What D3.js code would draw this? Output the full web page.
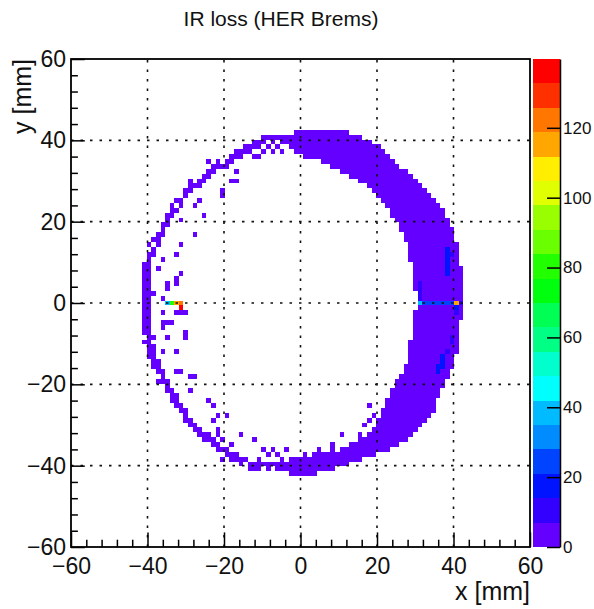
<!DOCTYPE html>
<html>
<head>
<meta charset="utf-8">
<script src="https://cdn.jsdelivr.net/npm/d3@7"></script>
<style>
  body { margin: 0; background: #fff; }
  svg { display: block; }
  text { font-family: "Liberation Sans", Arial, Helvetica, sans-serif; fill: #111; }
</style>
</head>
<body>
<svg id="chart" width="594" height="609"></svg>
<script>
// ---- histogram definition ----
const xRange = [-60, 60];          // mm
const yRange = [-60, 60];          // mm
const binWidth = 1.2;              // mm, bins centred on multiples of binWidth
const zAxisMax = 139.7;            // top of the colour scale (entries)
const nContours = 20;

const xTicks = [-60, -40, -20, 0, 20, 40, 60];
const yTicks = [-60, -40, -20, 0, 20, 40, 60];
const zTicks = [0, 20, 40, 60, 80, 100, 120];
const gridValues = [-40, -20, 0, 20, 40];

// rainbow palette, one colour per contour level (violet -> red)
const paletteColors = [
  "#6300ff", "#3300ff", "#0014ff", "#0044ff", "#008bff",
  "#00bbff", "#00fffc", "#00ffcc", "#00ff85", "#00ff55",
  "#00ff0e", "#22ff00", "#69ff00", "#99ff00", "#e0ff00",
  "#ffee00", "#ffa700", "#ff7700", "#ff3000", "#ff0000"
];

// filled runs of the dense crescent: [y centre, x first bin, x last bin, entries]
const bandRows = [
  [42.0, -1.2, 12.0, 3], [40.8, -4.8, 15.6, 3], [39.6, -3.6, 18.0, 3], [38.4, -2.4, 20.4, 3],
  [37.2, -1.2, 21.6, 3], [36.0, 1.2, 22.8, 3], [34.8, 6.0, 24.0, 3], [33.6, 8.4, 25.2, 3],
  [32.4, 10.8, 27.6, 3], [31.2, 13.2, 28.8, 3], [30.0, 15.6, 30.0, 3], [28.8, 18.0, 31.2, 3],
  [27.6, 19.2, 32.4, 3], [26.4, 20.4, 33.6, 3], [25.2, 21.6, 34.8, 3], [24.0, 22.8, 36.0, 3],
  [22.8, 24.0, 37.2, 3], [21.6, 24.0, 37.2, 3], [20.4, 25.2, 38.4, 3], [19.2, 26.4, 38.4, 3],
  [18.0, 26.4, 39.6, 3], [16.8, 27.6, 39.6, 3], [15.6, 27.6, 39.6, 3], [14.4, 28.8, 40.8, 3],
  [13.2, 28.8, 40.8, 3], [12.0, 28.8, 40.8, 3], [10.8, 28.8, 40.8, 3], [9.6, 30.0, 40.8, 3],
  [8.4, 30.0, 42.0, 3], [7.2, 30.0, 42.0, 3], [6.0, 30.0, 42.0, 3], [4.8, 30.0, 42.0, 3],
  [3.6, 30.0, 42.0, 3], [2.4, 31.2, 42.0, 3], [1.2, 31.2, 42.0, 3], [0.0, 31.2, 42.0, 4],
  [-1.2, 31.2, 42.0, 3], [-2.4, 30.0, 42.0, 3], [-3.6, 30.0, 42.0, 3], [-4.8, 30.0, 40.8, 3],
  [-6.0, 30.0, 40.8, 3], [-7.2, 30.0, 40.8, 3], [-8.4, 30.0, 40.8, 3], [-9.6, 28.8, 40.8, 3],
  [-10.8, 28.8, 40.8, 3], [-12.0, 28.8, 40.8, 3], [-13.2, 28.8, 39.6, 3], [-14.4, 28.8, 39.6, 3],
  [-15.6, 27.6, 39.6, 3], [-16.8, 27.6, 38.4, 3], [-18.0, 26.4, 38.4, 3], [-19.2, 25.2, 37.2, 3],
  [-20.4, 25.2, 37.2, 3], [-21.6, 24.0, 36.0, 3], [-22.8, 24.0, 36.0, 3], [-24.0, 22.8, 34.8, 3],
  [-25.2, 22.8, 34.8, 3], [-26.4, 21.6, 34.8, 3], [-27.6, 21.6, 33.6, 3], [-28.8, 20.4, 32.4, 3],
  [-30.0, 20.4, 31.2, 3], [-31.2, 19.2, 30.0, 3], [-32.4, 18.0, 28.8, 3], [-33.6, 15.6, 27.6, 3],
  [-34.8, 13.2, 25.2, 3], [-36.0, 10.8, 22.8, 3], [-37.2, 3.6, 19.2, 3], [-38.4, -2.4, 15.6, 3],
  [-39.6, -8.4, 12.0, 3], [-40.8, -6.0, 8.4, 3], [-42.0, -2.4, 3.6, 2]
];

// isolated bins on the sparse side of the ring: [x, y, entries]
const scatterCells = [
  // outer arc, upper left
  [-3.6, 40.8, 3], [-6.0, 40.8, 2], [-7.2, 40.8, 2], [-8.4, 40.8, 2], [-9.6, 40.8, 2],
  [-7.2, 39.6, 2], [-9.6, 39.6, 2], [-10.8, 39.6, 2], [-12.0, 39.6, 2], [-10.8, 38.4, 2],
  [-12.0, 38.4, 2], [-13.2, 38.4, 3], [-14.4, 38.4, 2], [-13.2, 37.2, 2], [-14.4, 37.2, 2],
  [-15.6, 37.2, 2], [-16.8, 37.2, 2], [-15.6, 36.0, 2], [-16.8, 36.0, 2], [-18.0, 36.0, 2],
  [-18.0, 34.8, 2], [-19.2, 34.8, 2], [-21.6, 34.8, 2], [-19.2, 33.6, 2], [-20.4, 33.6, 2],
  [-21.6, 33.6, 2], [-22.8, 33.6, 2], [-22.8, 32.4, 2], [-24.0, 32.4, 3], [-24.0, 31.2, 2],
  [-25.2, 31.2, 2], [-25.2, 30.0, 2], [-26.4, 30.0, 2], [-28.8, 30.0, 2], [-26.4, 28.8, 2],
  [-27.6, 28.8, 2], [-28.8, 28.8, 2], [-28.8, 27.6, 2], [-30.0, 27.6, 2], [-30.0, 26.4, 2],
  [-31.2, 25.2, 2], [-32.4, 25.2, 2], [-31.2, 24.0, 2], [-33.6, 24.0, 2], [-32.4, 22.8, 2],
  [-33.6, 22.8, 2], [-33.6, 21.6, 2], [-34.8, 21.6, 2], [-34.8, 20.4, 2], [-34.8, 19.2, 2],
  [-36.0, 19.2, 2], [-36.0, 18.0, 2], [-36.0, 16.8, 2], [-37.2, 16.8, 2], [-37.2, 15.6, 2],
  [-38.4, 15.6, 2], [-37.2, 14.4, 2], [-39.6, 14.4, 2], [-38.4, 13.2, 2], [-38.4, 12.0, 2],
  [-39.6, 12.0, 2], [-39.6, 10.8, 2], [-39.6, 9.6, 2], [-40.8, 9.6, 2], [-39.6, 8.4, 2],
  [-40.8, 8.4, 2], [-39.6, 7.2, 2], [-40.8, 7.2, 2], [-39.6, 6.0, 2], [-40.8, 6.0, 2],
  [-39.6, 4.8, 2], [-40.8, 4.8, 2], [-39.6, 3.6, 2], [-40.8, 3.6, 2], [-39.6, 2.4, 2],
  [-40.8, 2.4, 2], [-39.6, 1.2, 2], [-40.8, 1.2, 2], [-39.6, 0.0, 2], [-40.8, 0.0, 2],
  [-39.6, -1.2, 2], [-40.8, -1.2, 2], [-39.6, -2.4, 2], [-40.8, -2.4, 2], [-39.6, -3.6, 2],
  [-40.8, -3.6, 2], [-39.6, -4.8, 2], [-40.8, -4.8, 2], [-39.6, -6.0, 2], [-40.8, -6.0, 2],
  // outer arc, lower left
  [-39.6, -7.2, 2], [-40.8, -7.2, 2], [-39.6, -8.4, 2], [-38.4, -8.4, 2], [-39.6, -9.6, 2],
  [-40.8, -9.6, 2], [-38.4, -10.8, 2], [-39.6, -10.8, 2], [-38.4, -12.0, 2], [-39.6, -12.0, 2],
  [-38.4, -13.2, 2], [-39.6, -13.2, 2], [-38.4, -14.4, 2], [-37.2, -14.4, 2], [-37.2, -15.6, 2],
  [-38.4, -15.6, 2], [-37.2, -16.8, 2], [-36.0, -16.8, 2], [-36.0, -18.0, 2], [-37.2, -19.2, 2],
  [-36.0, -19.2, 2], [-34.8, -19.2, 2], [-34.8, -20.4, 2], [-34.8, -21.6, 2], [-33.6, -21.6, 2],
  [-32.4, -22.8, 2], [-33.6, -22.8, 2], [-32.4, -24.0, 2], [-33.6, -24.0, 2], [-31.2, -25.2, 2],
  [-32.4, -25.2, 2], [-31.2, -26.4, 2], [-30.0, -26.4, 2], [-30.0, -27.6, 2], [-28.8, -28.8, 2],
  [-30.0, -28.8, 2], [-27.6, -30.0, 2], [-28.8, -30.0, 2], [-27.6, -31.2, 2], [-26.4, -31.2, 2],
  [-26.4, -32.4, 2], [-25.2, -32.4, 2], [-24.0, -32.4, 2], [-24.0, -33.6, 2], [-25.2, -33.6, 2],
  [-22.8, -33.6, 2], [-22.8, -34.8, 2], [-21.6, -34.8, 2], [-20.4, -36.0, 2], [-19.2, -36.0, 2],
  [-21.6, -36.0, 2], [-18.0, -37.2, 2], [-16.8, -37.2, 2], [-19.2, -37.2, 2], [-15.6, -38.4, 2],
  [-14.4, -38.4, 2], [-18.0, -38.4, 2], [-16.8, -38.4, 2], [-13.2, -39.6, 2], [-12.0, -39.6, 2],
  [-15.6, -39.6, 2], [-10.8, -38.4, 2], [-9.6, -39.6, 2], [-10.8, -39.6, 2], [-13.2, -40.8, 2],
  [-12.0, -40.8, 2], [-10.8, -40.8, 2], [-8.4, -40.8, 2],
  // inside the arc, upper left
  [-12.0, 36.0, 2], [-9.6, 37.2, 2], [-8.4, 38.4, 2], [-7.2, 37.2, 2], [-6.0, 38.4, 2],
  [-4.8, 39.6, 3], [-4.8, 37.2, 2], [-10.8, 36.0, 2], [-16.8, 32.4, 2], [-18.0, 30.0, 2],
  [-16.8, 30.0, 2], [-20.4, 27.6, 2], [-20.4, 26.4, 2], [-24.0, 34.8, 2], [-26.4, 25.2, 2],
  [-27.6, 24.0, 2], [-25.2, 21.6, 2], [-31.2, 20.4, 2], [-27.6, 16.8, 2], [-31.2, 14.4, 2],
  [-32.4, 12.0, 2], [-36.0, 10.8, 2], [-31.2, 7.2, 2], [-32.4, 6.0, 2], [-32.4, 4.8, 2],
  [-34.8, 4.8, 2], [-34.8, 3.6, 2], [-36.0, 1.2, 2], [-38.4, 2.4, 2], [-37.2, 8.4, 2],
  // inside the arc, lower left
  [-36.0, -2.4, 2], [-32.4, -2.4, 2], [-31.2, -2.4, 3], [-30.0, -2.4, 2], [-36.0, -4.8, 2],
  [-36.0, -6.0, 2], [-34.8, -4.8, 2], [-33.6, -4.8, 2], [-34.8, -8.4, 2], [-30.0, -7.2, 2],
  [-30.0, -8.4, 2], [-32.4, -12.0, 2], [-32.4, -16.8, 2], [-31.2, -16.8, 2], [-28.8, -18.0, 2],
  [-27.6, -18.0, 2], [-28.8, -21.6, 2], [-24.0, -24.0, 2], [-22.8, -25.2, 2], [-21.6, -27.6, 2],
  [-22.8, -28.8, 2], [-19.2, -27.6, 2], [-21.6, -31.2, 2], [-21.6, -32.4, 2], [-20.4, -33.6, 2],
  [-20.4, -38.4, 2], [-18.0, -34.8, 2], [-15.6, -32.4, 2], [-12.0, -33.6, 2], [-9.6, -36.0, 2],
  [-7.2, -36.0, 2], [-6.0, -37.2, 2], [-3.6, -36.0, 2], [1.2, -37.2, 2], [8.4, -36.0, 2],
  [-8.4, -37.2, 2], [-4.8, -38.4, 2], [-36.0, -12.0, 2],
  // ragged inner edge of the crescent, lower right
  [18.0, -28.8, 2], [18.0, -25.2, 2], [15.6, -32.4, 2], [10.8, -32.4, 2], [8.4, -34.8, 2],
  [4.8, -36.0, 2], [19.2, -27.6, 2], [16.8, -30.0, 2]
];

// bins with higher content: [x, y, entries]
const hotCells = [
  // left peak
  [-34.8, 0.0, 38], [-33.6, 0.0, 78], [-32.4, 0.0, 115], [-31.2, 0.0, 119], [-31.2, -1.2, 135],
  // right peak and the row through it
  [31.2, 0.0, 40], [32.4, 0.0, 24], [33.6, 0.0, 22], [34.8, 0.0, 25], [36.0, 0.0, 23],
  [37.2, 0.0, 21], [38.4, 0.0, 26], [39.6, 0.0, 22], [40.8, 0.0, 113], [42.0, 0.0, 10],
  [40.8, -1.2, 18], [40.8, -2.4, 12],
  [31.2, 1.2, 12], [31.2, 2.4, 10], [31.2, 3.6, 11], [31.2, 4.8, 9],
  [38.4, 13.2, 16], [38.4, 12.0, 19], [38.4, 10.8, 15], [38.4, 9.6, 17], [38.4, 8.4, 14],
  [38.4, 7.2, 15], [39.6, 12.0, 10],
  [37.2, -13.2, 18], [37.2, -14.4, 20], [36.0, -15.6, 16], [37.2, -15.6, 15], [36.0, -16.8, 14],
  [38.4, -12.0, 12], [39.6, -8.4, 12], [39.6, -9.6, 10]
];

// ---- layout ----
const frame = { left: 71, right: 530, top: 59, bottom: 547 };
const bar = { left: 533, right: 560 };

const svg = d3.select("#chart");
svg.append("rect").attr("width", 594).attr("height", 609).attr("fill", "#fff");

const x = d3.scaleLinear().domain(xRange).range([frame.left, frame.right]);
const y = d3.scaleLinear().domain(yRange).range([frame.bottom, frame.top]);
const z = d3.scaleLinear().domain([0, zAxisMax]).range([frame.bottom, frame.top]);
const colour = d3.scaleQuantize().domain([0, zAxisMax]).range(paletteColors);

// ---- fill the 2D histogram ----
const binOf = v => Math.round(v / binWidth);
const cells = new Map();
const setCell = (ix, iy, n) => cells.set(ix + "," + iy, { ix, iy, n });
bandRows.forEach(([yc, x0, x1, n]) => {
  const iy = binOf(yc);
  for (let ix = binOf(x0); ix <= binOf(x1); ix++) setCell(ix, iy, n);
});
scatterCells.forEach(([xc, yc, n]) => setCell(binOf(xc), binOf(yc), n));
hotCells.forEach(([xc, yc, n]) => setCell(binOf(xc), binOf(yc), n));

svg.append("clipPath").attr("id", "frameClip")
  .append("rect")
  .attr("x", frame.left).attr("y", frame.top)
  .attr("width", frame.right - frame.left).attr("height", frame.bottom - frame.top);

svg.append("g")
  .attr("clip-path", "url(#frameClip)")
  .attr("shape-rendering", "crispEdges")
  .selectAll("rect")
  .data(Array.from(cells.values()))
  .join("rect")
  .attr("x", d => x((d.ix - 0.5) * binWidth))
  .attr("y", d => y((d.iy + 0.5) * binWidth))
  .attr("width", d => x((d.ix + 0.5) * binWidth) - x((d.ix - 0.5) * binWidth))
  .attr("height", d => y((d.iy - 0.5) * binWidth) - y((d.iy + 0.5) * binWidth))
  .attr("fill", d => colour(d.n));

// ---- dotted grid ----
const grid = svg.append("g")
  .attr("stroke", "#111").attr("stroke-width", 1.6).attr("stroke-dasharray", "2.5,7");
grid.selectAll("line.gx").data(gridValues).join("line").attr("class", "gx")
  .attr("x1", d => x(d)).attr("x2", d => x(d))
  .attr("y1", frame.bottom).attr("y2", frame.top);
grid.selectAll("line.gy").data(gridValues).join("line").attr("class", "gy")
  .attr("y1", d => y(d)).attr("y2", d => y(d))
  .attr("x1", frame.left).attr("x2", frame.right);

// ---- axes ----
const minorX = d3.range(-56, 60, 4).filter(v => v % 20 !== 0);
const minorY = d3.range(-56, 60, 4).filter(v => v % 20 !== 0);

function styleAxis(g, size) {
  g.select(".domain").remove();
  g.selectAll(".tick line").attr("stroke", "#000").attr("stroke-width", 1.5);
  g.selectAll("text").attr("font-size", size)
    .attr("font-family", "'Liberation Sans', Arial, sans-serif").attr("fill", "#111");
}

const xAxis = svg.append("g").attr("transform", `translate(0,${frame.bottom})`)
  .call(d3.axisBottom(x).tickValues(xTicks).tickSizeInner(-14.6).tickSizeOuter(0).tickPadding(11));
styleAxis(xAxis, 23);
const xMinor = svg.append("g").attr("transform", `translate(0,${frame.bottom})`)
  .call(d3.axisBottom(x).tickValues(minorX).tickSizeInner(-7.3).tickSizeOuter(0).tickFormat(""));
styleAxis(xMinor, 0);

const yAxis = svg.append("g").attr("transform", `translate(${frame.left},0)`)
  .call(d3.axisLeft(y).tickValues(yTicks).tickSizeInner(-13.8).tickSizeOuter(0).tickPadding(5));
styleAxis(yAxis, 23);
const yMinor = svg.append("g").attr("transform", `translate(${frame.left},0)`)
  .call(d3.axisLeft(y).tickValues(minorY).tickSizeInner(-6.9).tickSizeOuter(0).tickFormat(""));
styleAxis(yMinor, 0);

// frame
svg.append("rect")
  .attr("x", frame.left).attr("y", frame.top)
  .attr("width", frame.right - frame.left).attr("height", frame.bottom - frame.top)
  .attr("fill", "none").attr("stroke", "#000").attr("stroke-width", 1.8);

// ---- colour bar ----
const levels = d3.range(nContours).map(k => [k * zAxisMax / nContours, (k + 1) * zAxisMax / nContours]);
svg.append("g").attr("shape-rendering", "crispEdges")
  .selectAll("rect").data(levels).join("rect")
  .attr("x", bar.left).attr("width", bar.right - bar.left)
  .attr("y", d => z(d[1])).attr("height", d => z(d[0]) - z(d[1]))
  .attr("fill", (d, i) => paletteColors[i]);

const zAxis = svg.append("g").attr("transform", `translate(${bar.right},0)`)
  .call(d3.axisRight(z).tickValues(zTicks).tickSizeInner(-13).tickSizeOuter(0).tickPadding(3));
zAxis.select(".domain").attr("stroke", "#000").attr("stroke-width", 1.5);
zAxis.selectAll(".tick line").attr("stroke", "#000").attr("stroke-width", 1.5);
zAxis.selectAll("text").attr("font-size", 17)
  .attr("font-family", "'Liberation Sans', Arial, sans-serif").attr("fill", "#111");

// ---- titles ----
svg.append("text")
  .attr("x", 281).attr("y", 26)
  .attr("text-anchor", "middle").attr("font-size", 21).attr("fill", "#222")
  .text("IR loss (HER Brems)");

svg.append("text")
  .attr("x", frame.right).attr("y", 600)
  .attr("text-anchor", "end").attr("font-size", 25)
  .text("x [mm]");

svg.append("text")
  .attr("transform", `translate(31,${frame.top}) rotate(-90)`)
  .attr("text-anchor", "end").attr("font-size", 25)
  .text("y [mm]");
</script>
</body>
</html>
